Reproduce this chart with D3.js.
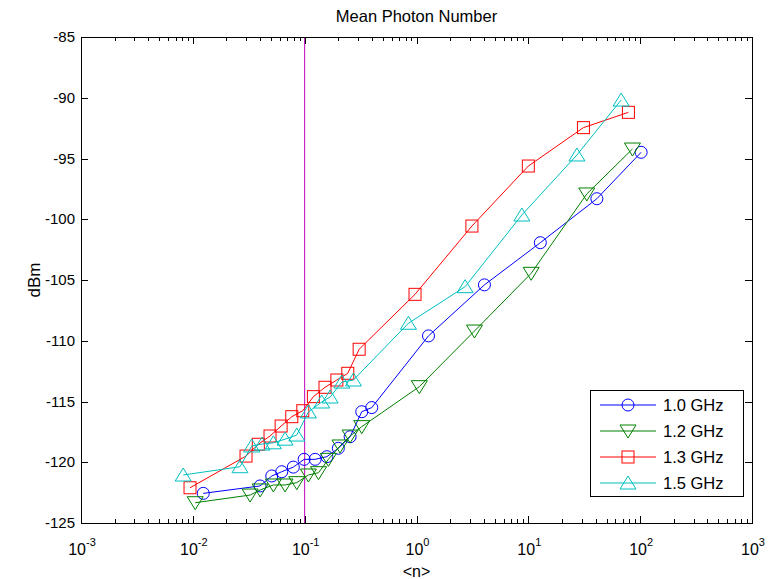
<!DOCTYPE html>
<html><head><meta charset="utf-8">
<script src="https://cdn.jsdelivr.net/npm/d3@7"></script>
<style>body{margin:0;background:#fff}svg{display:block}text{font-family:"Liberation Sans",Arial,sans-serif}</style>
</head><body><svg id="c" width="768" height="579"></svg>
<script>
const title = "Mean Photon Number";
const xLabel = "<n>";
const yLabel = "dBm";
const yTicks = [-85,-90,-95,-100,-105,-110,-115,-120,-125];
const xTickExps = [-3,-2,-1,0,1,2,3];
const refLineX = 0.1;

const n10 = [0.0124,0.0399,0.0508,0.0624,0.0792,0.0989,0.124,0.158,0.200,0.255,0.324,0.398,1.28,4.05,12.8,41.0,102];
const p10 = [-122.56,-121.95,-121.13,-120.78,-120.4,-119.76,-119.76,-119.54,-118.85,-117.9,-115.84,-115.5,-109.6,-105.4,-101.93,-98.31,-94.49];

const n12 = [0.0105,0.0325,0.040,0.0525,0.0668,0.085,0.108,0.133,0.163,0.207,0.255,0.324,1.06,3.3,10.6,33.3,85.3];
const p12 = [-123.33,-122.7,-122.28,-121.87,-121.87,-121.68,-121.05,-120.86,-119.76,-118.66,-117.84,-117.07,-113.78,-109.2,-104.45,-97.92,-94.22];

const n13 = [0.00944,0.0299,0.0385,0.049,0.0616,0.0767,0.0962,0.1197,0.152,0.194,0.243,0.307,0.97,3.13,10.0,31.1,78.5];
const p13 = [-122.1,-119.49,-118.52,-117.84,-117.02,-116.25,-115.76,-114.6,-113.83,-113.23,-112.68,-110.7,-106.18,-100.56,-95.62,-92.46,-91.2];

const n15 = [0.0082,0.0264,0.0336,0.0416,0.0525,0.0668,0.085,0.108,0.142,0.169,0.215,0.273,0.847,2.72,8.75,27.2,67.6];
const p15 = [-121.05,-120.37,-118.66,-118.5,-118.4,-118.1,-117.76,-115.86,-115.04,-114.63,-113.4,-113.23,-108.56,-105.55,-99.65,-94.71,-90.19];

const seriesNames = ["1.0 GHz","1.2 GHz","1.3 GHz","1.5 GHz"];
const series = [
  {name:seriesNames[0], x:n10, y:p10, color:"#0000ff", marker:"circle"},
  {name:seriesNames[1], x:n12, y:p12, color:"#008000", marker:"tridown"},
  {name:seriesNames[2], x:n13, y:p13, color:"#ff0000", marker:"square"},
  {name:seriesNames[3], x:n15, y:p15, color:"#00bfbf", marker:"triup"}
];

const W=768,H=579, m={l:81,r:16,t:37,b:56};
const svg=d3.select("#c");
const x=d3.scaleLog().domain([1e-3,1e3]).range([m.l,W-m.r]);
const y=d3.scaleLinear().domain([-125,-85]).range([H-m.b,m.t]);

svg.append("rect").attr("x",m.l).attr("y",m.t).attr("width",W-m.l-m.r).attr("height",H-m.t-m.b).attr("fill","#fff");

svg.append("line").attr("x1",x(refLineX)).attr("x2",x(refLineX)).attr("y1",m.t).attr("y2",H-m.b)
  .attr("stroke","#bf00bf").attr("stroke-width",1);

const g=svg.append("g").attr("stroke","#000").attr("stroke-width",1);
const minor=[];
for(let e=-3;e<3;e++){for(let k=2;k<=9;k++)minor.push(k*Math.pow(10,e));}
minor.forEach(v=>{const px=Math.round(x(v))+0.5;
  g.append("line").attr("x1",px).attr("x2",px).attr("y1",H-m.b).attr("y2",H-m.b-4);
  g.append("line").attr("x1",px).attr("x2",px).attr("y1",m.t).attr("y2",m.t+4);});
xTickExps.forEach(e=>{const px=Math.round(x(Math.pow(10,e)))+0.5;
  g.append("line").attr("x1",px).attr("x2",px).attr("y1",H-m.b).attr("y2",H-m.b-7);
  g.append("line").attr("x1",px).attr("x2",px).attr("y1",m.t).attr("y2",m.t+7);});
yTicks.forEach(v=>{const py=Math.round(y(v))+0.5;
  g.append("line").attr("x1",m.l).attr("x2",m.l+7).attr("y1",py).attr("y2",py);
  g.append("line").attr("x1",W-m.r).attr("x2",W-m.r-7).attr("y1",py).attr("y2",py);});

svg.append("rect").attr("x",m.l+0.5).attr("y",m.t+0.5).attr("width",W-m.l-m.r).attr("height",H-m.t-m.b)
  .attr("fill","none").attr("stroke","#000").attr("stroke-width",1);

yTicks.forEach(v=>{svg.append("text").attr("x",m.l-6).attr("y",y(v)+5).attr("text-anchor","end")
  .attr("font-size",15).text(v);});
xTickExps.forEach(e=>{const t=svg.append("text").attr("x",x(Math.pow(10,e))+1).attr("y",H-m.b+32)
  .attr("text-anchor","middle").attr("font-size",16);
  t.append("tspan").text("10");
  t.append("tspan").attr("dy",-9).attr("font-size",11).text(e);});

svg.append("text").attr("x",(m.l+W-m.r)/2).attr("y",22).attr("text-anchor","middle").attr("font-size",16.5).text(title);
svg.append("text").attr("x",(m.l+W-m.r)/2).attr("y",H-2).attr("text-anchor","middle").attr("font-size",16).text(xLabel);
svg.append("text").attr("transform",`translate(40,${(m.t+H-m.b)/2}) rotate(-90)`).attr("text-anchor","middle").attr("font-size",17).text(yLabel);

function drawMarker(sel,type,cx,cy,color){
  if(type==="circle") sel.append("circle").attr("cx",cx).attr("cy",cy).attr("r",6);
  else if(type==="square") sel.append("rect").attr("x",cx-6).attr("y",cy-6).attr("width",12).attr("height",12);
  else if(type==="tridown") sel.append("path").attr("d",`M${cx-8},${cy-6}L${cx+8},${cy-6}L${cx},${cy+7}Z`);
  else if(type==="triup") sel.append("path").attr("d",`M${cx-8},${cy+6}L${cx+8},${cy+6}L${cx},${cy-7}Z`);
}

const line=d3.line().x(d=>x(d[0])).y(d=>y(d[1]));
series.forEach(s=>{
  const pts=s.x.map((v,i)=>[v,s.y[i]]);
  const gs=svg.append("g");
  gs.append("path").attr("d",line(pts)).attr("fill","none").attr("stroke",s.color).attr("stroke-width",1);
  const mg=gs.append("g").attr("fill","none").attr("stroke",s.color).attr("stroke-width",1);
  pts.forEach(p=>drawMarker(mg,s.marker,x(p[0]),y(p[1]),s.color));
});

const lg=svg.append("g");
lg.append("rect").attr("x",590.5).attr("y",390.5).attr("width",153).attr("height",106).attr("fill","#fff").attr("stroke","#000");
series.forEach((s,i)=>{
  const ly=405+i*26;
  lg.append("line").attr("x1",600).attr("x2",656).attr("y1",ly).attr("y2",ly).attr("stroke",s.color);
  const mg=lg.append("g").attr("fill","none").attr("stroke",s.color);
  drawMarker(mg,s.marker,628,ly,s.color);
  lg.append("text").attr("x",663).attr("y",ly+6).attr("font-size",16.5).text(s.name);
});
</script></body></html>
